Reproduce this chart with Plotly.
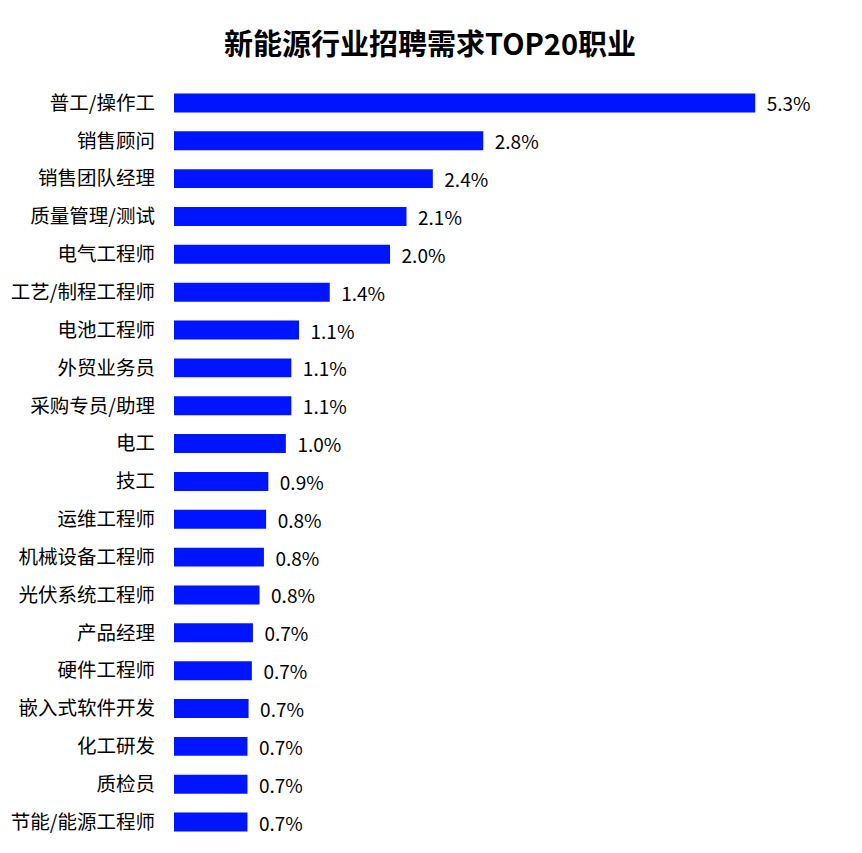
import plotly.graph_objects as go

# 职业 and 招聘需求占比 (%)
jobs = ['普工/操作工', '销售顾问', '销售团队经理', '质量管理/测试', '电气工程师',
        '工艺/制程工程师', '电池工程师', '外贸业务员', '采购专员/助理', '电工',
        '技工', '运维工程师', '机械设备工程师', '光伏系统工程师', '产品经理',
        '硬件工程师', '嵌入式软件开发', '化工研发', '质检员', '节能/能源工程师']
share = [5.30, 2.82, 2.36, 2.12, 1.97,
         1.42, 1.14, 1.07, 1.07, 1.02,
         0.86, 0.84, 0.82, 0.78, 0.72,
         0.71, 0.68, 0.67, 0.67, 0.67]

font = 'Noto Sans CJK SC'

# the page body adds 8px, so the figure is 8px smaller on each side
fig = go.Figure()
fig.add_trace(go.Bar(
    x=share, y=jobs, orientation='h',
    marker=dict(color='#0015FF', line=dict(width=0)),
    texttemplate='\u00a0\u00a0%{x:.1f}%', textposition='outside',
    constraintext='none',
    textfont=dict(family=font, size=19, color='#000'),
    cliponaxis=False, hoverinfo='skip'
))
fig.update_layout(
    width=854, height=845,
    margin=dict(l=166, r=30, t=76, b=12, autoexpand=False),
    paper_bgcolor='white', plot_bgcolor='white',
    bargap=0.5, showlegend=False,
    title=dict(text='<b>新能源行业招聘需求TOP20职业</b>', x=(430 - 8) / 854, xref='container',
               xanchor='center', y=1 - 37 / 845, yref='container', yanchor='middle',
               font=dict(family=font, size=29, color='#000')),
    font=dict(family=font),
)
fig.update_xaxes(range=[0, 6.0], visible=False)
fig.update_yaxes(autorange='reversed', showline=False, showgrid=False,
                 ticks='', ticklabelstandoff=18, automargin=False,
                 tickfont=dict(family=font, size=19.5, color='#000'))

fig.write_html('out.html')
